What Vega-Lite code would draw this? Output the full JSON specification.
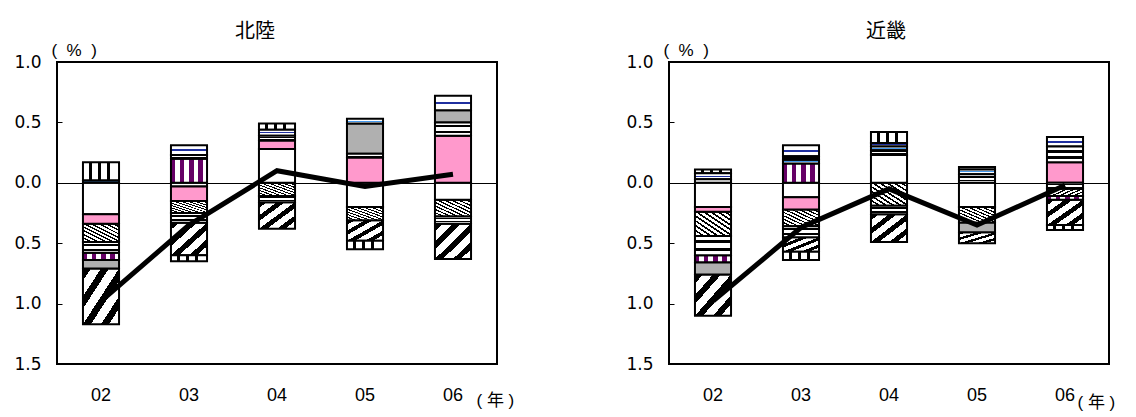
{
  "$schema": "https://vega.github.io/schema/vega-lite/v6.json",
  "background": "white",
  "padding": {"left": 12, "top": 21, "right": 0, "bottom": 0},
  "spacing": 109,
  "config": {
    "view": {"stroke": "#000000", "strokeWidth": 2},
    "title": {"font": "Noto Sans CJK JP", "fontSize": 20, "fontWeight": "normal", "color": "#000000"}
  },
  "datasets": {
    "seg": [
      {"reg": "北陸", "yr": "02", "s": "J", "o": 1, "v": 0.02},
      {"reg": "北陸", "yr": "02", "s": "H", "o": 2, "v": 0.15},
      {"reg": "北陸", "yr": "02", "s": "C", "o": 1, "v": -0.26},
      {"reg": "北陸", "yr": "02", "s": "D", "o": 2, "v": -0.08},
      {"reg": "北陸", "yr": "02", "s": "B", "o": 3, "v": -0.15},
      {"reg": "北陸", "yr": "02", "s": "K", "o": 4, "v": -0.09},
      {"reg": "北陸", "yr": "02", "s": "E", "o": 5, "v": -0.06},
      {"reg": "北陸", "yr": "02", "s": "G", "o": 6, "v": -0.07},
      {"reg": "北陸", "yr": "02", "s": "A", "o": 7, "v": -0.46},
      {"reg": "北陸", "yr": "03", "s": "E", "o": 1, "v": 0.20},
      {"reg": "北陸", "yr": "03", "s": "K", "o": 2, "v": 0.03},
      {"reg": "北陸", "yr": "03", "s": "I", "o": 3, "v": 0.08},
      {"reg": "北陸", "yr": "03", "s": "C", "o": 1, "v": -0.03},
      {"reg": "北陸", "yr": "03", "s": "D", "o": 2, "v": -0.12},
      {"reg": "北陸", "yr": "03", "s": "B", "o": 3, "v": -0.10},
      {"reg": "北陸", "yr": "03", "s": "K", "o": 4, "v": -0.08},
      {"reg": "北陸", "yr": "03", "s": "A", "o": 5, "v": -0.27},
      {"reg": "北陸", "yr": "03", "s": "H", "o": 6, "v": -0.05},
      {"reg": "北陸", "yr": "04", "s": "C", "o": 1, "v": 0.28},
      {"reg": "北陸", "yr": "04", "s": "D", "o": 2, "v": 0.07},
      {"reg": "北陸", "yr": "04", "s": "K", "o": 3, "v": 0.04},
      {"reg": "北陸", "yr": "04", "s": "I", "o": 4, "v": 0.05},
      {"reg": "北陸", "yr": "04", "s": "H", "o": 5, "v": 0.05},
      {"reg": "北陸", "yr": "04", "s": "B", "o": 1, "v": -0.11},
      {"reg": "北陸", "yr": "04", "s": "K", "o": 2, "v": -0.05},
      {"reg": "北陸", "yr": "04", "s": "A", "o": 3, "v": -0.22},
      {"reg": "北陸", "yr": "05", "s": "D", "o": 1, "v": 0.21},
      {"reg": "北陸", "yr": "05", "s": "K", "o": 2, "v": 0.03},
      {"reg": "北陸", "yr": "05", "s": "G", "o": 3, "v": 0.25},
      {"reg": "北陸", "yr": "05", "s": "J", "o": 4, "v": 0.04},
      {"reg": "北陸", "yr": "05", "s": "C", "o": 1, "v": -0.20},
      {"reg": "北陸", "yr": "05", "s": "B", "o": 2, "v": -0.11},
      {"reg": "北陸", "yr": "05", "s": "A", "o": 3, "v": -0.17},
      {"reg": "北陸", "yr": "05", "s": "H", "o": 4, "v": -0.07},
      {"reg": "北陸", "yr": "06", "s": "D", "o": 1, "v": 0.39},
      {"reg": "北陸", "yr": "06", "s": "K", "o": 2, "v": 0.11},
      {"reg": "北陸", "yr": "06", "s": "G", "o": 3, "v": 0.10},
      {"reg": "北陸", "yr": "06", "s": "I", "o": 4, "v": 0.12},
      {"reg": "北陸", "yr": "06", "s": "C", "o": 1, "v": -0.14},
      {"reg": "北陸", "yr": "06", "s": "B", "o": 2, "v": -0.14},
      {"reg": "北陸", "yr": "06", "s": "K", "o": 3, "v": -0.06},
      {"reg": "北陸", "yr": "06", "s": "A", "o": 4, "v": -0.29},
      {"reg": "近畿", "yr": "02", "s": "J", "o": 1, "v": 0.03},
      {"reg": "近畿", "yr": "02", "s": "I", "o": 2, "v": 0.05},
      {"reg": "近畿", "yr": "02", "s": "H", "o": 3, "v": 0.03},
      {"reg": "近畿", "yr": "02", "s": "C", "o": 1, "v": -0.20},
      {"reg": "近畿", "yr": "02", "s": "D", "o": 2, "v": -0.04},
      {"reg": "近畿", "yr": "02", "s": "B", "o": 3, "v": -0.20},
      {"reg": "近畿", "yr": "02", "s": "K", "o": 4, "v": -0.16},
      {"reg": "近畿", "yr": "02", "s": "E", "o": 5, "v": -0.06},
      {"reg": "近畿", "yr": "02", "s": "G", "o": 6, "v": -0.10},
      {"reg": "近畿", "yr": "02", "s": "A", "o": 7, "v": -0.34},
      {"reg": "近畿", "yr": "03", "s": "E", "o": 1, "v": 0.16},
      {"reg": "近畿", "yr": "03", "s": "J", "o": 2, "v": 0.03},
      {"reg": "近畿", "yr": "03", "s": "K", "o": 3, "v": 0.03},
      {"reg": "近畿", "yr": "03", "s": "I", "o": 4, "v": 0.09},
      {"reg": "近畿", "yr": "03", "s": "C", "o": 1, "v": -0.12},
      {"reg": "近畿", "yr": "03", "s": "D", "o": 2, "v": -0.10},
      {"reg": "近畿", "yr": "03", "s": "B", "o": 3, "v": -0.14},
      {"reg": "近畿", "yr": "03", "s": "K", "o": 4, "v": -0.09},
      {"reg": "近畿", "yr": "03", "s": "A", "o": 5, "v": -0.12},
      {"reg": "近畿", "yr": "03", "s": "H", "o": 6, "v": -0.07},
      {"reg": "近畿", "yr": "04", "s": "C", "o": 1, "v": 0.23},
      {"reg": "近畿", "yr": "04", "s": "K", "o": 2, "v": 0.04},
      {"reg": "近畿", "yr": "04", "s": "J", "o": 3, "v": 0.03},
      {"reg": "近畿", "yr": "04", "s": "I", "o": 4, "v": 0.03},
      {"reg": "近畿", "yr": "04", "s": "H", "o": 5, "v": 0.09},
      {"reg": "近畿", "yr": "04", "s": "B", "o": 1, "v": -0.19},
      {"reg": "近畿", "yr": "04", "s": "K", "o": 2, "v": -0.07},
      {"reg": "近畿", "yr": "04", "s": "A", "o": 3, "v": -0.23},
      {"reg": "近畿", "yr": "05", "s": "K", "o": 1, "v": 0.07},
      {"reg": "近畿", "yr": "05", "s": "J", "o": 2, "v": 0.04},
      {"reg": "近畿", "yr": "05", "s": "I", "o": 3, "v": 0.02},
      {"reg": "近畿", "yr": "05", "s": "C", "o": 1, "v": -0.20},
      {"reg": "近畿", "yr": "05", "s": "B", "o": 2, "v": -0.13},
      {"reg": "近畿", "yr": "05", "s": "G", "o": 3, "v": -0.08},
      {"reg": "近畿", "yr": "05", "s": "A", "o": 4, "v": -0.09},
      {"reg": "近畿", "yr": "06", "s": "D", "o": 1, "v": 0.17},
      {"reg": "近畿", "yr": "06", "s": "K", "o": 2, "v": 0.13},
      {"reg": "近畿", "yr": "06", "s": "I", "o": 3, "v": 0.08},
      {"reg": "近畿", "yr": "06", "s": "K", "o": 1, "v": -0.05},
      {"reg": "近畿", "yr": "06", "s": "B", "o": 2, "v": -0.06},
      {"reg": "近畿", "yr": "06", "s": "E", "o": 3, "v": -0.03},
      {"reg": "近畿", "yr": "06", "s": "A", "o": 4, "v": -0.21},
      {"reg": "近畿", "yr": "06", "s": "H", "o": 5, "v": -0.04}
    ],
    "tot": [
      {"reg": "北陸", "yr": "02", "v": -0.98},
      {"reg": "北陸", "yr": "03", "v": -0.35},
      {"reg": "北陸", "yr": "04", "v": 0.10},
      {"reg": "北陸", "yr": "05", "v": -0.03},
      {"reg": "北陸", "yr": "06", "v": 0.07},
      {"reg": "近畿", "yr": "02", "v": -0.98},
      {"reg": "近畿", "yr": "03", "v": -0.37},
      {"reg": "近畿", "yr": "04", "v": -0.05},
      {"reg": "近畿", "yr": "05", "v": -0.35},
      {"reg": "近畿", "yr": "06", "v": -0.02}
    ]
  },
  "hconcat": [
    {
      "title": {"text": "北陸", "dx": -22, "offset": -1},
      "width": 440,
      "height": 302,
      "layer": [
        {
          "data": {"name": "seg"},
          "transform": [
            {"filter": "datum.reg === '北陸'"},
            {"stack": "v", "groupby": ["yr"], "sort": [{"field": "o", "order": "ascending"}], "as": ["v0", "v1"]}
          ],
          "encoding": {
            "x": {"field": "yr", "type": "ordinal", "scale": {"paddingInner": 0.59, "paddingOuter": 0.295},
              "axis": {"orient": "bottom", "domain": false, "ticks": false, "labelAngle": 0, "labelFontSize": 18, "labelFont": "Liberation Sans", "labelColor": "#000000", "labelPadding": 22, "title": "(\u00a0年\u00a0)", "titleX": 419, "titleY": 36, "titleAlign": "left", "titleBaseline": "middle", "titleFont": "Liberation Sans, Noto Sans CJK JP", "titleFontSize": 17, "titleFontWeight": "normal", "titleColor": "#000000"}},
            "y": {"field": "v0", "type": "quantitative", "title": "(\u00a0\u00a0%\u00a0\u00a0)",
              "scale": {"domain": [-1.5, 1], "nice": false, "zero": false},
              "axis": {"values": [-1.5, -1, -0.5, 0, 0.5, 1], "labelExpr": "format(abs(datum.value), '.1f')", "grid": false, "domain": false, "ticks": true, "tickSize": -5, "tickColor": "#000000", "labelFontSize": 17, "labelFont": "DejaVu Sans", "labelColor": "#000000", "labelPadding": 21, "titleAngle": 0, "titleX": -6, "titleY": -12, "titleAlign": "left", "titleBaseline": "middle", "titleFont": "Liberation Sans", "titleFontSize": 17, "titleFontWeight": "normal", "titleColor": "#000000"}},
            "y2": {"field": "v1"}
          },
          "layer": [
            {"transform": [{"filter": "datum.s === 'A'"}], "mark": {"type": "bar", "stroke": "#000000", "strokeWidth": 2, "fill": {"gradient": "linear", "x1": 0, "y1": 0, "x2": 1, "y2": 1, "stops": [{"offset": 0, "color": "#000000"}, {"offset": 0.11, "color": "#000000"}, {"offset": 0.11, "color": "#ffffff"}, {"offset": 0.25, "color": "#ffffff"}, {"offset": 0.25, "color": "#000000"}, {"offset": 0.36, "color": "#000000"}, {"offset": 0.36, "color": "#ffffff"}, {"offset": 0.5, "color": "#ffffff"}, {"offset": 0.5, "color": "#000000"}, {"offset": 0.61, "color": "#000000"}, {"offset": 0.61, "color": "#ffffff"}, {"offset": 0.75, "color": "#ffffff"}, {"offset": 0.75, "color": "#000000"}, {"offset": 0.86, "color": "#000000"}, {"offset": 0.86, "color": "#ffffff"}, {"offset": 1, "color": "#ffffff"}]}}},
            {"transform": [{"filter": "datum.s === 'B'"}], "mark": {"type": "bar", "stroke": "#000000", "strokeWidth": 2, "fill": {"gradient": "linear", "x1": 0, "y1": 1, "x2": 1, "y2": 0, "stops": [{"offset": 0, "color": "#000000"}, {"offset": 0.04, "color": "#000000"}, {"offset": 0.04, "color": "#ffffff"}, {"offset": 0.1, "color": "#ffffff"}, {"offset": 0.1, "color": "#000000"}, {"offset": 0.14, "color": "#000000"}, {"offset": 0.14, "color": "#ffffff"}, {"offset": 0.2, "color": "#ffffff"}, {"offset": 0.2, "color": "#000000"}, {"offset": 0.24, "color": "#000000"}, {"offset": 0.24, "color": "#ffffff"}, {"offset": 0.3, "color": "#ffffff"}, {"offset": 0.3, "color": "#000000"}, {"offset": 0.34, "color": "#000000"}, {"offset": 0.34, "color": "#ffffff"}, {"offset": 0.4, "color": "#ffffff"}, {"offset": 0.4, "color": "#000000"}, {"offset": 0.44, "color": "#000000"}, {"offset": 0.44, "color": "#ffffff"}, {"offset": 0.5, "color": "#ffffff"}, {"offset": 0.5, "color": "#000000"}, {"offset": 0.54, "color": "#000000"}, {"offset": 0.54, "color": "#ffffff"}, {"offset": 0.6, "color": "#ffffff"}, {"offset": 0.6, "color": "#000000"}, {"offset": 0.64, "color": "#000000"}, {"offset": 0.64, "color": "#ffffff"}, {"offset": 0.7, "color": "#ffffff"}, {"offset": 0.7, "color": "#000000"}, {"offset": 0.74, "color": "#000000"}, {"offset": 0.74, "color": "#ffffff"}, {"offset": 0.8, "color": "#ffffff"}, {"offset": 0.8, "color": "#000000"}, {"offset": 0.84, "color": "#000000"}, {"offset": 0.84, "color": "#ffffff"}, {"offset": 0.9, "color": "#ffffff"}, {"offset": 0.9, "color": "#000000"}, {"offset": 0.94, "color": "#000000"}, {"offset": 0.94, "color": "#ffffff"}, {"offset": 1, "color": "#ffffff"}]}}},
            {"transform": [{"filter": "datum.s === 'C'"}], "mark": {"type": "bar", "stroke": "#000000", "strokeWidth": 2, "fill": "#ffffff"}},
            {"transform": [{"filter": "datum.s === 'D'"}], "mark": {"type": "bar", "stroke": "#000000", "strokeWidth": 2, "fill": "#ff99cc"}},
            {"transform": [{"filter": "datum.s === 'E'"}], "mark": {"type": "bar", "stroke": "#000000", "strokeWidth": 2, "fill": {"gradient": "linear", "x1": 0, "y1": 0, "x2": 1, "y2": 0, "stops": [{"offset": 0, "color": "#660066"}, {"offset": 0.125, "color": "#660066"}, {"offset": 0.125, "color": "#ffffff"}, {"offset": 0.25, "color": "#ffffff"}, {"offset": 0.25, "color": "#660066"}, {"offset": 0.375, "color": "#660066"}, {"offset": 0.375, "color": "#ffffff"}, {"offset": 0.5, "color": "#ffffff"}, {"offset": 0.5, "color": "#660066"}, {"offset": 0.625, "color": "#660066"}, {"offset": 0.625, "color": "#ffffff"}, {"offset": 0.75, "color": "#ffffff"}, {"offset": 0.75, "color": "#660066"}, {"offset": 0.875, "color": "#660066"}, {"offset": 0.875, "color": "#ffffff"}, {"offset": 1, "color": "#ffffff"}]}}},
            {"transform": [{"filter": "datum.s === 'G'"}], "mark": {"type": "bar", "stroke": "#000000", "strokeWidth": 2, "fill": "#b0b0b0"}},
            {"transform": [{"filter": "datum.s === 'H'"}], "mark": {"type": "bar", "stroke": "#000000", "strokeWidth": 2, "fill": {"gradient": "linear", "x1": 0, "y1": 0, "x2": 1, "y2": 0, "stops": [{"offset": 0, "color": "#ffffff"}, {"offset": 0.17, "color": "#ffffff"}, {"offset": 0.17, "color": "#000000"}, {"offset": 0.25, "color": "#000000"}, {"offset": 0.25, "color": "#ffffff"}, {"offset": 0.42, "color": "#ffffff"}, {"offset": 0.42, "color": "#000000"}, {"offset": 0.5, "color": "#000000"}, {"offset": 0.5, "color": "#ffffff"}, {"offset": 0.67, "color": "#ffffff"}, {"offset": 0.67, "color": "#000000"}, {"offset": 0.75, "color": "#000000"}, {"offset": 0.75, "color": "#ffffff"}, {"offset": 1, "color": "#ffffff"}]}}},
            {"transform": [{"filter": "datum.s === 'I'"}], "mark": {"type": "bar", "stroke": "#000000", "strokeWidth": 2, "fill": {"gradient": "linear", "x1": 0, "y1": 0, "x2": 0, "y2": 1, "stops": [{"offset": 0, "color": "#ffffff"}, {"offset": 0.42, "color": "#ffffff"}, {"offset": 0.42, "color": "#1f2f9f"}, {"offset": 0.58, "color": "#1f2f9f"}, {"offset": 0.58, "color": "#ffffff"}, {"offset": 1, "color": "#ffffff"}]}}},
            {"transform": [{"filter": "datum.s === 'J'"}], "mark": {"type": "bar", "stroke": "#000000", "strokeWidth": 2, "fill": {"gradient": "linear", "x1": 0, "y1": 0, "x2": 0, "y2": 1, "stops": [{"offset": 0, "color": "#ffffff"}, {"offset": 0.4, "color": "#ffffff"}, {"offset": 0.4, "color": "#4499ee"}, {"offset": 0.6, "color": "#4499ee"}, {"offset": 0.6, "color": "#ffffff"}, {"offset": 1, "color": "#ffffff"}]}}},
            {"transform": [{"filter": "datum.s === 'K'"}], "mark": {"type": "bar", "stroke": "#000000", "strokeWidth": 2, "fill": {"gradient": "linear", "x1": 0, "y1": 0, "x2": 0, "y2": 1, "stops": [{"offset": 0, "color": "#ffffff"}, {"offset": 0.2, "color": "#ffffff"}, {"offset": 0.2, "color": "#000000"}, {"offset": 0.38, "color": "#000000"}, {"offset": 0.38, "color": "#ffffff"}, {"offset": 0.62, "color": "#ffffff"}, {"offset": 0.62, "color": "#000000"}, {"offset": 0.8, "color": "#000000"}, {"offset": 0.8, "color": "#ffffff"}, {"offset": 1, "color": "#ffffff"}]}}}
          ]
        },
        {
          "data": {"name": "tot"},
          "transform": [{"filter": "datum.reg === '北陸'"}],
          "mark": {"type": "line", "color": "#000000", "strokeWidth": 5},
          "encoding": {
            "x": {"field": "yr", "type": "ordinal",
              "axis": {"orient": "top", "offset": -121, "labels": false, "title": null, "domain": true, "domainColor": "#000000", "domainWidth": 1, "ticks": true, "tickBand": "extent", "tickSize": 5, "tickColor": "#000000", "tickWidth": 1, "grid": false}},
            "y": {"field": "v", "type": "quantitative", "title": "(\u00a0\u00a0%\u00a0\u00a0)"}
          }
        }
      ],
      "resolve": {"axis": {"x": "independent"}}
    },
    {
      "title": {"text": "近畿", "dx": -3, "offset": -1},
      "width": 440,
      "height": 302,
      "layer": [
        {
          "data": {"name": "seg"},
          "transform": [
            {"filter": "datum.reg === '近畿'"},
            {"stack": "v", "groupby": ["yr"], "sort": [{"field": "o", "order": "ascending"}], "as": ["v0", "v1"]}
          ],
          "encoding": {
            "x": {"field": "yr", "type": "ordinal", "scale": {"paddingInner": 0.59, "paddingOuter": 0.295},
              "axis": {"orient": "bottom", "domain": false, "ticks": false, "labelAngle": 0, "labelFontSize": 18, "labelFont": "Liberation Sans", "labelColor": "#000000", "labelPadding": 22, "title": "(\u00a0年\u00a0)", "titleX": 408, "titleY": 38, "titleAlign": "left", "titleBaseline": "middle", "titleFont": "Liberation Sans, Noto Sans CJK JP", "titleFontSize": 17, "titleFontWeight": "normal", "titleColor": "#000000"}},
            "y": {"field": "v0", "type": "quantitative", "title": "(\u00a0\u00a0%\u00a0\u00a0)",
              "scale": {"domain": [-1.5, 1], "nice": false, "zero": false},
              "axis": {"values": [-1.5, -1, -0.5, 0, 0.5, 1], "labelExpr": "format(abs(datum.value), '.1f')", "grid": false, "domain": false, "ticks": true, "tickSize": -5, "tickColor": "#000000", "labelFontSize": 17, "labelFont": "DejaVu Sans", "labelColor": "#000000", "labelPadding": 21, "titleAngle": 0, "titleX": -6, "titleY": -12, "titleAlign": "left", "titleBaseline": "middle", "titleFont": "Liberation Sans", "titleFontSize": 17, "titleFontWeight": "normal", "titleColor": "#000000"}},
            "y2": {"field": "v1"}
          },
          "layer": [
            {"transform": [{"filter": "datum.s === 'A'"}], "mark": {"type": "bar", "stroke": "#000000", "strokeWidth": 2, "fill": {"gradient": "linear", "x1": 0, "y1": 0, "x2": 1, "y2": 1, "stops": [{"offset": 0, "color": "#000000"}, {"offset": 0.11, "color": "#000000"}, {"offset": 0.11, "color": "#ffffff"}, {"offset": 0.25, "color": "#ffffff"}, {"offset": 0.25, "color": "#000000"}, {"offset": 0.36, "color": "#000000"}, {"offset": 0.36, "color": "#ffffff"}, {"offset": 0.5, "color": "#ffffff"}, {"offset": 0.5, "color": "#000000"}, {"offset": 0.61, "color": "#000000"}, {"offset": 0.61, "color": "#ffffff"}, {"offset": 0.75, "color": "#ffffff"}, {"offset": 0.75, "color": "#000000"}, {"offset": 0.86, "color": "#000000"}, {"offset": 0.86, "color": "#ffffff"}, {"offset": 1, "color": "#ffffff"}]}}},
            {"transform": [{"filter": "datum.s === 'B'"}], "mark": {"type": "bar", "stroke": "#000000", "strokeWidth": 2, "fill": {"gradient": "linear", "x1": 0, "y1": 1, "x2": 1, "y2": 0, "stops": [{"offset": 0, "color": "#000000"}, {"offset": 0.04, "color": "#000000"}, {"offset": 0.04, "color": "#ffffff"}, {"offset": 0.1, "color": "#ffffff"}, {"offset": 0.1, "color": "#000000"}, {"offset": 0.14, "color": "#000000"}, {"offset": 0.14, "color": "#ffffff"}, {"offset": 0.2, "color": "#ffffff"}, {"offset": 0.2, "color": "#000000"}, {"offset": 0.24, "color": "#000000"}, {"offset": 0.24, "color": "#ffffff"}, {"offset": 0.3, "color": "#ffffff"}, {"offset": 0.3, "color": "#000000"}, {"offset": 0.34, "color": "#000000"}, {"offset": 0.34, "color": "#ffffff"}, {"offset": 0.4, "color": "#ffffff"}, {"offset": 0.4, "color": "#000000"}, {"offset": 0.44, "color": "#000000"}, {"offset": 0.44, "color": "#ffffff"}, {"offset": 0.5, "color": "#ffffff"}, {"offset": 0.5, "color": "#000000"}, {"offset": 0.54, "color": "#000000"}, {"offset": 0.54, "color": "#ffffff"}, {"offset": 0.6, "color": "#ffffff"}, {"offset": 0.6, "color": "#000000"}, {"offset": 0.64, "color": "#000000"}, {"offset": 0.64, "color": "#ffffff"}, {"offset": 0.7, "color": "#ffffff"}, {"offset": 0.7, "color": "#000000"}, {"offset": 0.74, "color": "#000000"}, {"offset": 0.74, "color": "#ffffff"}, {"offset": 0.8, "color": "#ffffff"}, {"offset": 0.8, "color": "#000000"}, {"offset": 0.84, "color": "#000000"}, {"offset": 0.84, "color": "#ffffff"}, {"offset": 0.9, "color": "#ffffff"}, {"offset": 0.9, "color": "#000000"}, {"offset": 0.94, "color": "#000000"}, {"offset": 0.94, "color": "#ffffff"}, {"offset": 1, "color": "#ffffff"}]}}},
            {"transform": [{"filter": "datum.s === 'C'"}], "mark": {"type": "bar", "stroke": "#000000", "strokeWidth": 2, "fill": "#ffffff"}},
            {"transform": [{"filter": "datum.s === 'D'"}], "mark": {"type": "bar", "stroke": "#000000", "strokeWidth": 2, "fill": "#ff99cc"}},
            {"transform": [{"filter": "datum.s === 'E'"}], "mark": {"type": "bar", "stroke": "#000000", "strokeWidth": 2, "fill": {"gradient": "linear", "x1": 0, "y1": 0, "x2": 1, "y2": 0, "stops": [{"offset": 0, "color": "#660066"}, {"offset": 0.125, "color": "#660066"}, {"offset": 0.125, "color": "#ffffff"}, {"offset": 0.25, "color": "#ffffff"}, {"offset": 0.25, "color": "#660066"}, {"offset": 0.375, "color": "#660066"}, {"offset": 0.375, "color": "#ffffff"}, {"offset": 0.5, "color": "#ffffff"}, {"offset": 0.5, "color": "#660066"}, {"offset": 0.625, "color": "#660066"}, {"offset": 0.625, "color": "#ffffff"}, {"offset": 0.75, "color": "#ffffff"}, {"offset": 0.75, "color": "#660066"}, {"offset": 0.875, "color": "#660066"}, {"offset": 0.875, "color": "#ffffff"}, {"offset": 1, "color": "#ffffff"}]}}},
            {"transform": [{"filter": "datum.s === 'G'"}], "mark": {"type": "bar", "stroke": "#000000", "strokeWidth": 2, "fill": "#b0b0b0"}},
            {"transform": [{"filter": "datum.s === 'H'"}], "mark": {"type": "bar", "stroke": "#000000", "strokeWidth": 2, "fill": {"gradient": "linear", "x1": 0, "y1": 0, "x2": 1, "y2": 0, "stops": [{"offset": 0, "color": "#ffffff"}, {"offset": 0.17, "color": "#ffffff"}, {"offset": 0.17, "color": "#000000"}, {"offset": 0.25, "color": "#000000"}, {"offset": 0.25, "color": "#ffffff"}, {"offset": 0.42, "color": "#ffffff"}, {"offset": 0.42, "color": "#000000"}, {"offset": 0.5, "color": "#000000"}, {"offset": 0.5, "color": "#ffffff"}, {"offset": 0.67, "color": "#ffffff"}, {"offset": 0.67, "color": "#000000"}, {"offset": 0.75, "color": "#000000"}, {"offset": 0.75, "color": "#ffffff"}, {"offset": 1, "color": "#ffffff"}]}}},
            {"transform": [{"filter": "datum.s === 'I'"}], "mark": {"type": "bar", "stroke": "#000000", "strokeWidth": 2, "fill": {"gradient": "linear", "x1": 0, "y1": 0, "x2": 0, "y2": 1, "stops": [{"offset": 0, "color": "#ffffff"}, {"offset": 0.42, "color": "#ffffff"}, {"offset": 0.42, "color": "#1f2f9f"}, {"offset": 0.58, "color": "#1f2f9f"}, {"offset": 0.58, "color": "#ffffff"}, {"offset": 1, "color": "#ffffff"}]}}},
            {"transform": [{"filter": "datum.s === 'J'"}], "mark": {"type": "bar", "stroke": "#000000", "strokeWidth": 2, "fill": {"gradient": "linear", "x1": 0, "y1": 0, "x2": 0, "y2": 1, "stops": [{"offset": 0, "color": "#ffffff"}, {"offset": 0.4, "color": "#ffffff"}, {"offset": 0.4, "color": "#4499ee"}, {"offset": 0.6, "color": "#4499ee"}, {"offset": 0.6, "color": "#ffffff"}, {"offset": 1, "color": "#ffffff"}]}}},
            {"transform": [{"filter": "datum.s === 'K'"}], "mark": {"type": "bar", "stroke": "#000000", "strokeWidth": 2, "fill": {"gradient": "linear", "x1": 0, "y1": 0, "x2": 0, "y2": 1, "stops": [{"offset": 0, "color": "#ffffff"}, {"offset": 0.2, "color": "#ffffff"}, {"offset": 0.2, "color": "#000000"}, {"offset": 0.38, "color": "#000000"}, {"offset": 0.38, "color": "#ffffff"}, {"offset": 0.62, "color": "#ffffff"}, {"offset": 0.62, "color": "#000000"}, {"offset": 0.8, "color": "#000000"}, {"offset": 0.8, "color": "#ffffff"}, {"offset": 1, "color": "#ffffff"}]}}}
          ]
        },
        {
          "data": {"name": "tot"},
          "transform": [{"filter": "datum.reg === '近畿'"}],
          "mark": {"type": "line", "color": "#000000", "strokeWidth": 5},
          "encoding": {
            "x": {"field": "yr", "type": "ordinal",
              "axis": {"orient": "top", "offset": -121, "labels": false, "title": null, "domain": true, "domainColor": "#000000", "domainWidth": 1, "ticks": true, "tickBand": "extent", "tickSize": 5, "tickColor": "#000000", "tickWidth": 1, "grid": false}},
            "y": {"field": "v", "type": "quantitative", "title": "(\u00a0\u00a0%\u00a0\u00a0)"}
          }
        }
      ],
      "resolve": {"axis": {"x": "independent"}}
    }
  ]
}
